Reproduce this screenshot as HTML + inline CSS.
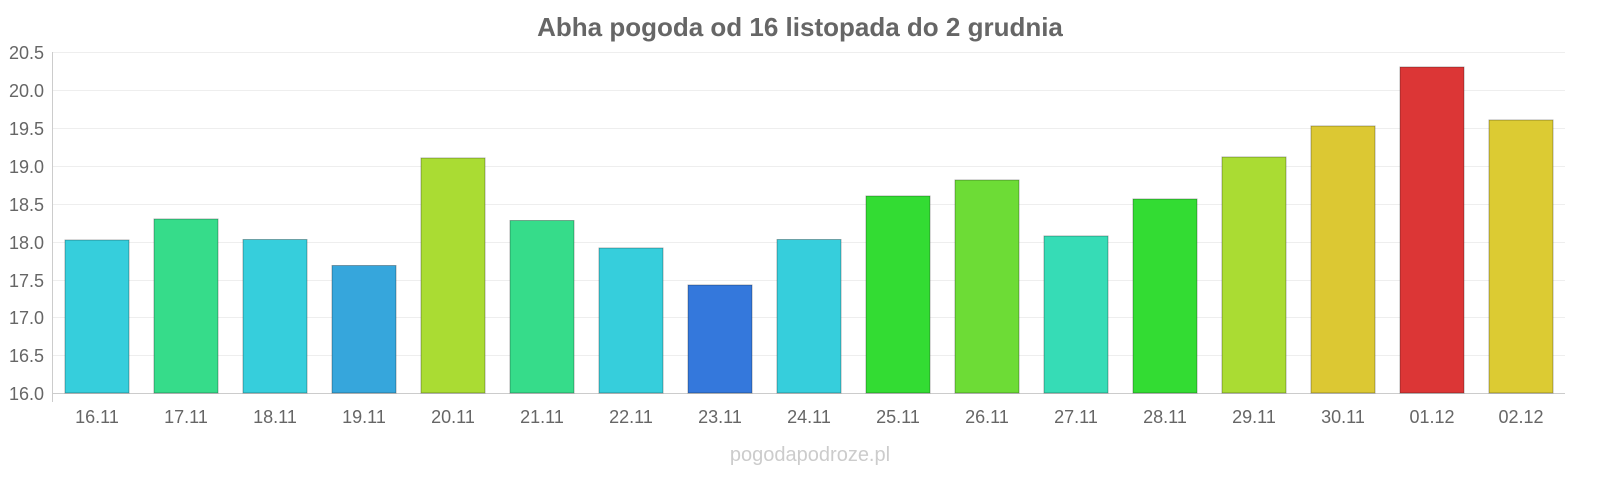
<!DOCTYPE html>
<html><head><meta charset="utf-8"><style>body{margin:0;background:#fff}</style></head><body>
<svg width="1600" height="480" xmlns="http://www.w3.org/2000/svg" font-family="Liberation Sans, sans-serif">
<text x="800" y="36" text-anchor="middle" font-size="26" font-weight="bold" fill="#666">Abha pogoda od 16 listopada do 2 grudnia</text>
<g stroke="#eee" stroke-width="1">
<line x1="52" x2="1565" y1="52.5" y2="52.5"/><line x1="52" x2="1565" y1="90.5" y2="90.5"/><line x1="52" x2="1565" y1="128.5" y2="128.5"/><line x1="52" x2="1565" y1="166.5" y2="166.5"/><line x1="52" x2="1565" y1="204.5" y2="204.5"/><line x1="52" x2="1565" y1="242.5" y2="242.5"/><line x1="52" x2="1565" y1="280.5" y2="280.5"/><line x1="52" x2="1565" y1="317.5" y2="317.5"/><line x1="52" x2="1565" y1="355.5" y2="355.5"/><line x1="52" x2="1565" y1="393.5" y2="393.5"/>
</g>
<line x1="52.5" x2="52.5" y1="52" y2="402" stroke="#ccc"/>
<line x1="52" x2="1565" y1="393.5" y2="393.5" stroke="#ccc"/>
<g font-size="18" fill="#666" text-anchor="end">
<text x="44" y="59">20.5</text><text x="44" y="97">20.0</text><text x="44" y="135">19.5</text><text x="44" y="173">19.0</text><text x="44" y="211">18.5</text><text x="44" y="249">18.0</text><text x="44" y="287">17.5</text><text x="44" y="324">17.0</text><text x="44" y="362">16.5</text><text x="44" y="400">16.0</text>
</g>
<g stroke-opacity="0.3" stroke="#000">
<rect x="65" y="240" width="64" height="153" fill="#36cedc"/>
<rect x="154" y="219" width="64" height="174" fill="#36dc8a"/>
<rect x="243" y="239.5" width="64" height="153.5" fill="#36cedc"/>
<rect x="332" y="265.5" width="64" height="127.5" fill="#36a6dc"/>
<rect x="421" y="158" width="64" height="235" fill="#aadc33"/>
<rect x="510" y="220.5" width="64" height="172.5" fill="#36dc8a"/>
<rect x="599" y="248" width="64" height="145" fill="#36cedc"/>
<rect x="688" y="285" width="64" height="108" fill="#3478dc"/>
<rect x="777" y="239.5" width="64" height="153.5" fill="#36cedc"/>
<rect x="866" y="196" width="64" height="197" fill="#33dc33"/>
<rect x="955" y="180" width="64" height="213" fill="#6ddc36"/>
<rect x="1044" y="236" width="64" height="157" fill="#36dcb6"/>
<rect x="1133" y="199" width="64" height="194" fill="#33dc33"/>
<rect x="1222" y="157" width="64" height="236" fill="#aadc33"/>
<rect x="1311" y="126" width="64" height="267" fill="#dcc833"/>
<rect x="1400" y="67" width="64" height="326" fill="#dc3636"/>
<rect x="1489" y="120" width="64" height="273" fill="#dccb33"/>
</g>
<g font-size="18" fill="#666" text-anchor="middle">
<text x="97" y="423">16.11</text><text x="186" y="423">17.11</text><text x="275" y="423">18.11</text><text x="364" y="423">19.11</text><text x="453" y="423">20.11</text><text x="542" y="423">21.11</text><text x="631" y="423">22.11</text><text x="720" y="423">23.11</text><text x="809" y="423">24.11</text><text x="898" y="423">25.11</text><text x="987" y="423">26.11</text><text x="1076" y="423">27.11</text><text x="1165" y="423">28.11</text><text x="1254" y="423">29.11</text><text x="1343" y="423">30.11</text><text x="1432" y="423">01.12</text><text x="1521" y="423">02.12</text>
</g>
<text x="810" y="461" text-anchor="middle" font-size="20" fill="#ccc">pogodapodroze.pl</text>
</svg>
</body></html>
